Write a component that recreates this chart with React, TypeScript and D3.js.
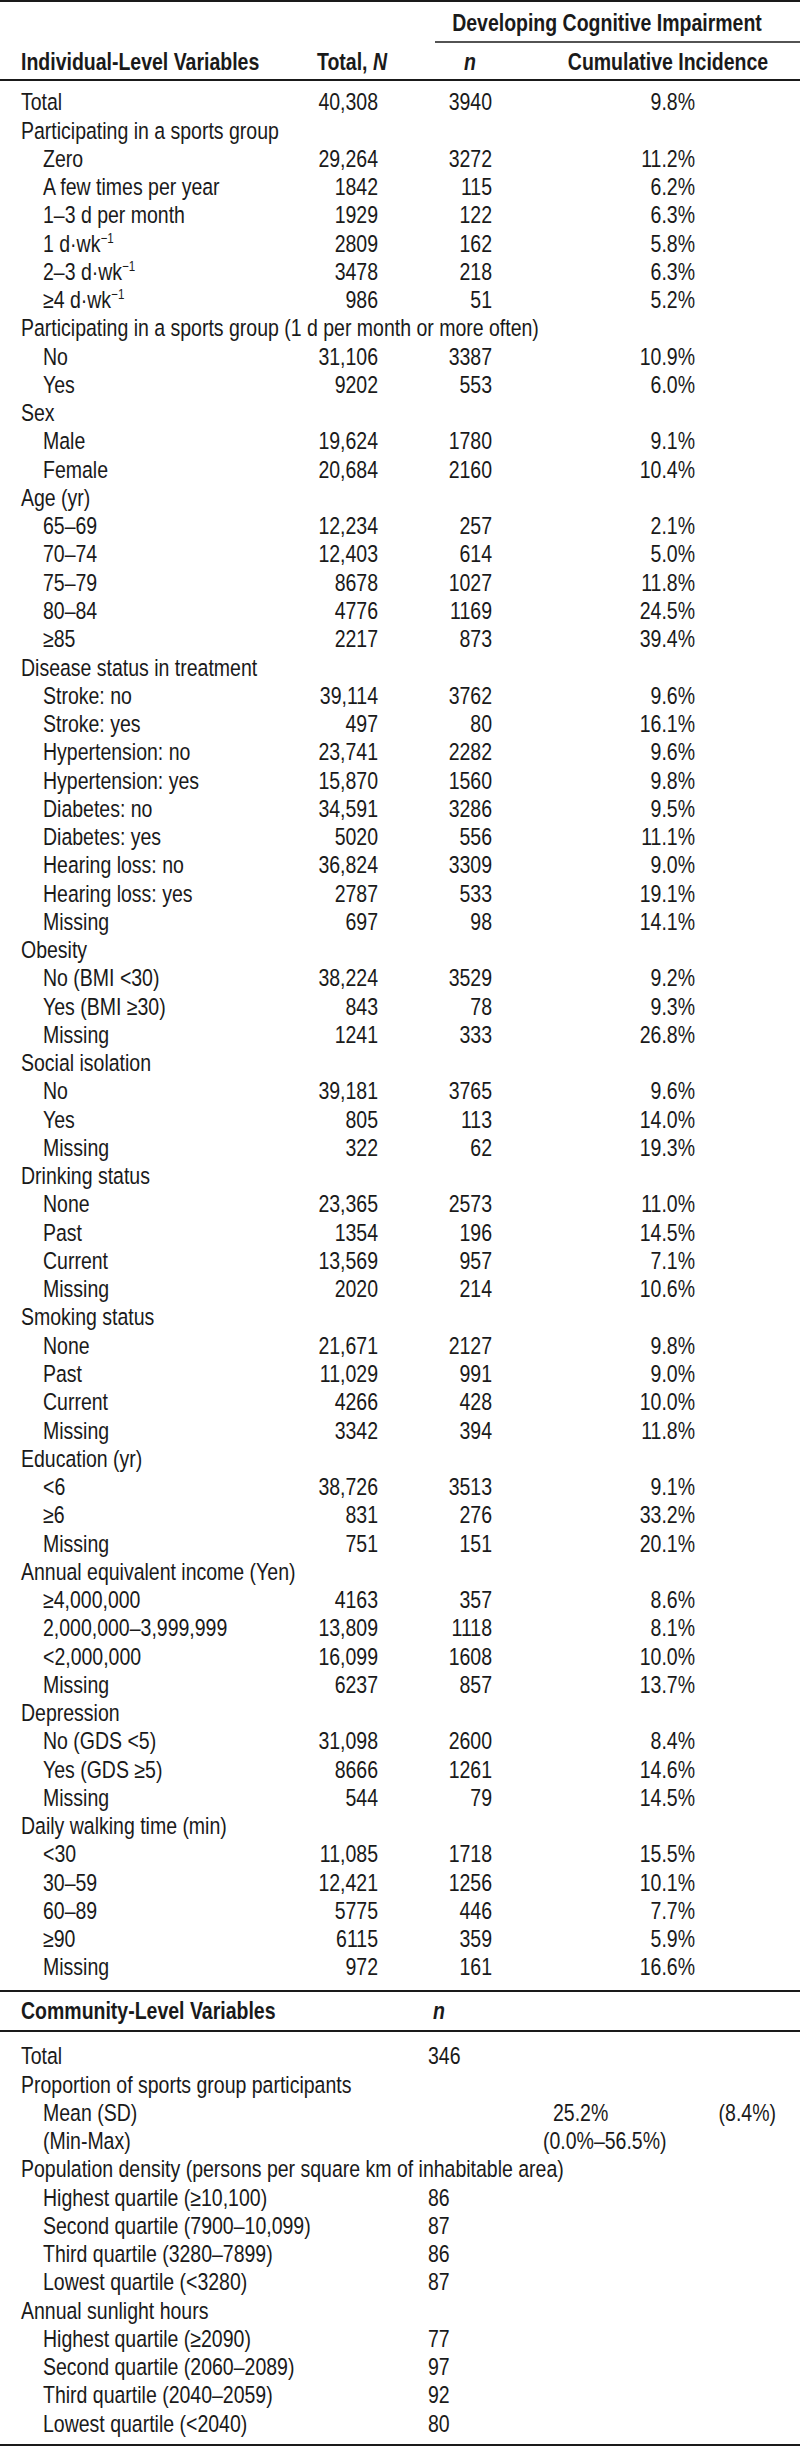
import React from "react";
import * as d3 from "d3";

// Individual-level rows: level 0 = group heading, level 1 = indented item
const indivLabels = [
  "Total", "Participating in a sports group", "Zero", "A few times per year", "1–3 d per month",
  "1 d·wk^−1", "2–3 d·wk^−1", "≥4 d·wk^−1",
  "Participating in a sports group (1 d per month or more often)", "No", "Yes",
  "Sex", "Male", "Female",
  "Age (yr)", "65–69", "70–74", "75–79", "80–84", "≥85",
  "Disease status in treatment", "Stroke: no", "Stroke: yes", "Hypertension: no", "Hypertension: yes",
  "Diabetes: no", "Diabetes: yes", "Hearing loss: no", "Hearing loss: yes", "Missing",
  "Obesity", "No (BMI <30)", "Yes (BMI ≥30)", "Missing",
  "Social isolation", "No", "Yes", "Missing",
  "Drinking status", "None", "Past", "Current", "Missing",
  "Smoking status", "None", "Past", "Current", "Missing",
  "Education (yr)", "<6", "≥6", "Missing",
  "Annual equivalent income (Yen)", "≥4,000,000", "2,000,000–3,999,999", "<2,000,000", "Missing",
  "Depression", "No (GDS <5)", "Yes (GDS ≥5)", "Missing",
  "Daily walking time (min)", "<30", "30–59", "60–89", "≥90", "Missing",
];
const indivLevel = [
  0, 0, 1, 1, 1, 1, 1, 1,
  0, 1, 1,
  0, 1, 1,
  0, 1, 1, 1, 1, 1,
  0, 1, 1, 1, 1, 1, 1, 1, 1, 1,
  0, 1, 1, 1,
  0, 1, 1, 1,
  0, 1, 1, 1, 1,
  0, 1, 1, 1, 1,
  0, 1, 1, 1,
  0, 1, 1, 1, 1,
  0, 1, 1, 1,
  0, 1, 1, 1, 1, 1,
];
const totalN = [
  40308, null, 29264, 1842, 1929, 2809, 3478, 986,
  null, 31106, 9202,
  null, 19624, 20684,
  null, 12234, 12403, 8678, 4776, 2217,
  null, 39114, 497, 23741, 15870, 34591, 5020, 36824, 2787, 697,
  null, 38224, 843, 1241,
  null, 39181, 805, 322,
  null, 23365, 1354, 13569, 2020,
  null, 21671, 11029, 4266, 3342,
  null, 38726, 831, 751,
  null, 4163, 13809, 16099, 6237,
  null, 31098, 8666, 544,
  null, 11085, 12421, 5775, 6115, 972,
];
const casesN = [
  3940, null, 3272, 115, 122, 162, 218, 51,
  null, 3387, 553,
  null, 1780, 2160,
  null, 257, 614, 1027, 1169, 873,
  null, 3762, 80, 2282, 1560, 3286, 556, 3309, 533, 98,
  null, 3529, 78, 333,
  null, 3765, 113, 62,
  null, 2573, 196, 957, 214,
  null, 2127, 991, 428, 394,
  null, 3513, 276, 151,
  null, 357, 1118, 1608, 857,
  null, 2600, 1261, 79,
  null, 1718, 1256, 446, 359, 161,
];
const incidence = [
  9.8, null, 11.2, 6.2, 6.3, 5.8, 6.3, 5.2,
  null, 10.9, 6.0,
  null, 9.1, 10.4,
  null, 2.1, 5.0, 11.8, 24.5, 39.4,
  null, 9.6, 16.1, 9.6, 9.8, 9.5, 11.1, 9.0, 19.1, 14.1,
  null, 9.2, 9.3, 26.8,
  null, 9.6, 14.0, 19.3,
  null, 11.0, 14.5, 7.1, 10.6,
  null, 9.8, 9.0, 10.0, 11.8,
  null, 9.1, 33.2, 20.1,
  null, 8.6, 8.1, 10.0, 13.7,
  null, 8.4, 14.6, 14.5,
  null, 15.5, 10.1, 7.7, 5.9, 16.6,
];

// Community-level rows
const commLabels = [
  "Total", "Proportion of sports group participants", "Mean (SD)", "(Min-Max)",
  "Population density (persons per square km of inhabitable area)",
  "Highest quartile (≥10,100)", "Second quartile (7900–10,099)", "Third quartile (3280–7899)", "Lowest quartile (<3280)",
  "Annual sunlight hours",
  "Highest quartile (≥2090)", "Second quartile (2060–2089)", "Third quartile (2040–2059)", "Lowest quartile (<2040)",
];
const commLevel = [0, 0, 1, 1, 0, 1, 1, 1, 1, 0, 1, 1, 1, 1];
const commN = [346, null, null, null, null, 86, 87, 86, 87, null, 77, 97, 92, 80];
const propMean = 25.2;
const propSD = 8.4;
const propMin = 0.0;
const propMax = 56.5;

const W = 800;
const H = 2447;
const FS = 23.5;
const SX = 0.83;
const INK = "#1a1a1a";
const FONT = "'Liberation Sans', Arial, sans-serif";

const fmtN = (v: number) => (v >= 10000 ? d3.format(",")(v) : String(v));
const fmtP = (v: number) => d3.format(".1f")(v) + "%";

const T = ({ x, y, anchor = "start", weight = "normal", children }: any) => (
  <text
    transform={`translate(${x},${y + 8.3}) scale(${SX},1)`}
    textAnchor={anchor}
    fontWeight={weight}
    fontSize={FS}
    fill={INK}
  >
    {children}
  </text>
);

// label with optional "^superscript"
const Label = ({ x, y, text, weight }: any) => {
  const [base, sup] = text.split("^");
  return (
    <T x={x} y={y} weight={weight}>
      {base}
      {sup && (
        <tspan dy={-9} fontSize={14}>
          {sup}
        </tspan>
      )}
    </T>
  );
};

const App = () => {
  const yInd = d3.scaleLinear().domain([0, 66]).range([102, 102 + 66 * 28.26]);
  const yCom = d3.scaleLinear().domain([0, 13]).range([2056, 2056 + 13 * 28.26]);

  const xLabel = 21;
  const xIndent = 43;
  const xTotal = 378;
  const xCases = 492;
  const xPct = 695;
  const xComm = 428;

  return (
    <svg
      width={W}
      height={H}
      style={{ position: "absolute", left: 0, top: 0, background: "#fff" }}
      fontFamily={FONT}
    >
      <rect width={W} height={H} fill="#fff" />
      {/* rules */}
      <line x1={0} x2={W} y1={1} y2={1} stroke={INK} strokeWidth={2} />
      <line x1={435} x2={W} y1={42} y2={42} stroke={INK} strokeWidth={1.5} />
      <line x1={0} x2={W} y1={80} y2={80} stroke={INK} strokeWidth={2} />
      <line x1={0} x2={W} y1={1991} y2={1991} stroke={INK} strokeWidth={2} />
      <line x1={0} x2={W} y1={2031} y2={2031} stroke={INK} strokeWidth={2} />
      <line x1={0} x2={W} y1={2445} y2={2445} stroke={INK} strokeWidth={2} />

      {/* header */}
      <T x={607} y={23} anchor="middle" weight="bold">Developing Cognitive Impairment</T>
      <T x={xLabel} y={62} weight="bold">Individual-Level Variables</T>
      <T x={387} y={62} anchor="end" weight="bold">
        Total, <tspan fontStyle="italic">N</tspan>
      </T>
      <T x={470} y={62} anchor="middle" weight="bold">
        <tspan fontStyle="italic">n</tspan>
      </T>
      <T x={668} y={62} anchor="middle" weight="bold">Cumulative Incidence</T>

      {indivLabels.map((lab, i) => (
        <g key={"i" + i}>
          <Label x={indivLevel[i] ? xIndent : xLabel} y={yInd(i)} text={lab} />
          {totalN[i] != null && <T x={xTotal} y={yInd(i)} anchor="end">{fmtN(totalN[i] as number)}</T>}
          {casesN[i] != null && <T x={xCases} y={yInd(i)} anchor="end">{fmtN(casesN[i] as number)}</T>}
          {incidence[i] != null && <T x={xPct} y={yInd(i)} anchor="end">{fmtP(incidence[i] as number)}</T>}
        </g>
      ))}

      {/* community section */}
      <T x={xLabel} y={2011} weight="bold">Community-Level Variables</T>
      <T x={433} y={2011} weight="bold">
        <tspan fontStyle="italic">n</tspan>
      </T>
      {commLabels.map((lab, i) => (
        <g key={"c" + i}>
          <Label x={commLevel[i] ? xIndent : xLabel} y={yCom(i)} text={lab} />
          {commN[i] != null && <T x={xComm} y={yCom(i)}>{fmtN(commN[i] as number)}</T>}
        </g>
      ))}
      <T x={553} y={yCom(2)}>{fmtP(propMean)}</T>
      <T x={776} y={yCom(2)} anchor="end">({fmtP(propSD)})</T>
      <T x={543} y={yCom(3)}>({fmtP(propMin)}–{fmtP(propMax)})</T>
    </svg>
  );
};

export default App;
